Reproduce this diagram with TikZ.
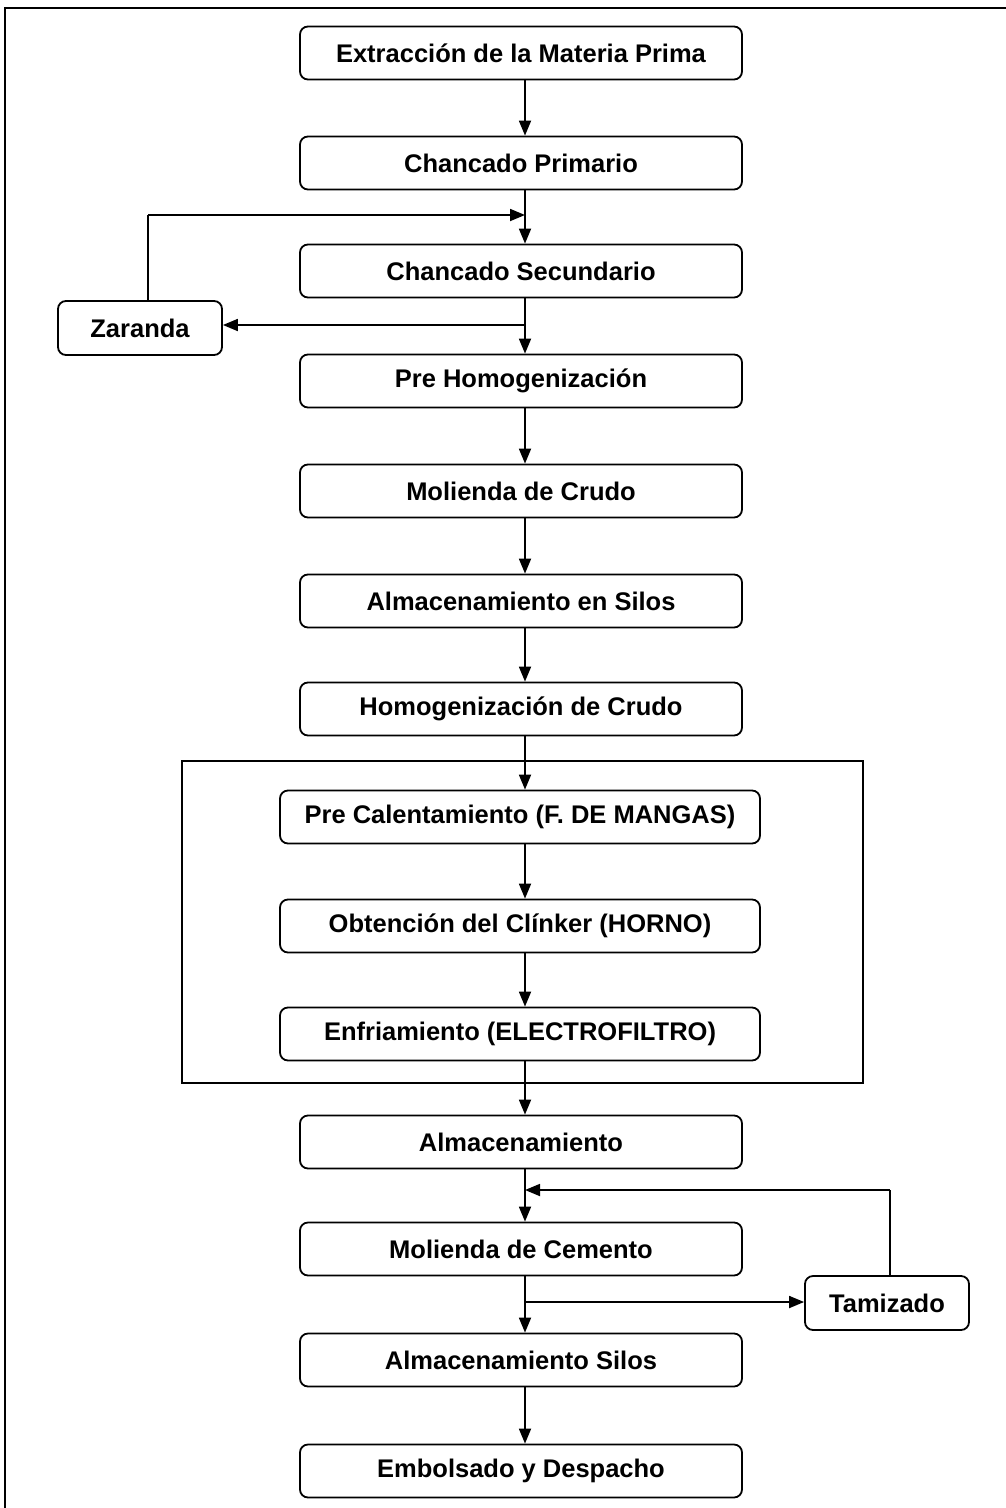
\documentclass[tikz,border=0pt]{standalone}
\usepackage{fontspec}
\setmainfont{Liberation Sans}
\usetikzlibrary{arrows.meta}
\begin{document}
\begin{tikzpicture}[x=1pt,y=-1pt,
  box/.style={draw,line width=1.8pt,rounded corners=8pt,minimum width=442pt,minimum height=53pt,inner sep=0pt,font=\fontsize{25.5}{30}\selectfont\bfseries},
  ibox/.style={box,minimum width=480pt},
  sbox/.style={box,minimum width=164pt,minimum height=54pt},
  conn/.style={line width=1.8pt,-{Triangle[length=15pt,width=12pt]}},
  ln/.style={line width=1.8pt}]
\useasboundingbox (0,0) rectangle (1006,1508);
\draw[line width=1.5pt] (5,1508) -- (5,8) -- (1006,8);
\node[box] (n1) at (521,53) {Extracción de la Materia Prima};
\node[box] (n2) at (521,163) {Chancado Primario};
\node[box] (n3) at (521,271) {Chancado Secundario};
\node[box] (n4) at (521,381) {Pre Homogenización};
\node[box] (n5) at (521,491) {Molienda de Crudo};
\node[box] (n6) at (521,601) {Almacenamiento en Silos};
\node[box] (n7) at (521,709) {Homogenización de Crudo};
\node[draw,line width=1.5pt,minimum width=681pt,minimum height=322pt,inner sep=0pt] (frame) at (522.5,922) {};
\node[ibox] (n8) at (520,817) {Pre Calentamiento (F. DE MANGAS)};
\node[ibox] (n9) at (520,926) {Obtención del Clínker (HORNO)};
\node[ibox] (n10) at (520,1034) {Enfriamiento (ELECTROFILTRO)};
\node[box] (n11) at (521,1142) {Almacenamiento};
\node[box] (n12) at (521,1249) {Molienda de Cemento};
\node[box] (n13) at (521,1360) {Almacenamiento Silos};
\node[box] (n14) at (521,1471) {Embolsado y Despacho};
\node[sbox] (z) at (140,328) {Zaranda};
\node[sbox] (t) at (887,1303) {Tamizado};
\coordinate (xl) at (525,0);
\draw[conn] (n1.south -| xl) -- (n2.north -| xl);
\draw[conn] (n2.south -| xl) -- (n3.north -| xl);
\draw[conn] (n3.south -| xl) -- (n4.north -| xl);
\draw[conn] (n4.south -| xl) -- (n5.north -| xl);
\draw[conn] (n5.south -| xl) -- (n6.north -| xl);
\draw[conn] (n6.south -| xl) -- (n7.north -| xl);
\draw[conn] (n7.south -| xl) -- (n8.north -| xl);
\draw[conn] (n8.south -| xl) -- (n9.north -| xl);
\draw[conn] (n9.south -| xl) -- (n10.north -| xl);
\draw[conn] (n10.south -| xl) -- (n11.north -| xl);
\draw[conn] (n11.south -| xl) -- (n12.north -| xl);
\draw[conn] (n12.south -| xl) -- (n13.north -| xl);
\draw[conn] (n13.south -| xl) -- (n14.north -| xl);
% Zaranda loop
\coordinate (zt) at (148,215);
\coordinate (zj) at (525,215);
\coordinate (zs) at (525,325);
\draw[ln] (z.north -| zt) -- (zt);
\draw[conn] (zt) -- (zj);
\draw[conn] (zs) -- (z.east |- zs);
% Tamizado loop
\coordinate (tj) at (525,1302);
\coordinate (tt) at (890,1190);
\coordinate (tr) at (525,1190);
\draw[conn] (tj) -- (t.west |- tj);
\draw[ln] (t.north -| tt) -- (tt);
\draw[conn] (tt) -- (tr);
\end{tikzpicture}
\end{document}
